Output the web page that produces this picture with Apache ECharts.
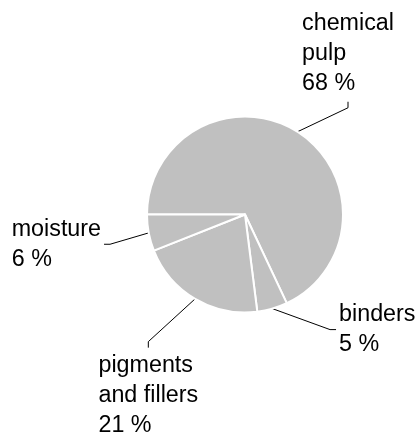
<!DOCTYPE html>
<html>
<head>
<meta charset="utf-8">
<script src="https://cdn.jsdelivr.net/npm/echarts@6/dist/echarts.min.js"></script>
<style>
  html, body { margin: 0; padding: 0; background: #fff; }
  #chart { width: 416px; height: 439px; }
</style>
</head>
<body>
<div id="chart"></div>
<script>
// ---- data ----
const categories = ['chemical\npulp', 'binders', 'pigments\nand fillers', 'moisture'];
const values = [68, 5, 21, 6];

// ---- layout / style config (not data) ----
const CX = 245, CY = 214.5, R = 98;
const START_ANGLE = 180;
// elbow offset from the slice's outer mid-point, tick direction and gap to the text
const leader = [
  { off: [50.5, -24], side: 'top' },
  { off: [57.7, 21], side: 'right' },
  { off: [-46.8, 42.8], side: 'bottom' },
  { off: [-38.7, 11.4], side: 'left' }
];
const TICK = 6, GAP = 3;

const total = values.reduce((a, b) => a + b, 0);
function midAngle(i) {
  let before = 0;
  for (let k = 0; k < i; k++) before += values[k];
  const mid = before + values[i] / 2;
  return (START_ANGLE - mid / total * 360) * Math.PI / 180;
}

const chart = echarts.init(document.getElementById('chart'), null, { renderer: 'canvas' });
chart.setOption({
  animation: false,
  series: [{
    type: 'pie',
    center: [CX, CY],
    radius: R,
    startAngle: START_ANGLE,
    clockwise: true,
    avoidLabelOverlap: false,
    data: categories.map((c, i) => ({ name: c, value: values[i] })),
    itemStyle: { color: '#c0c0c0', borderColor: '#ffffff', borderWidth: 2 },
    emphasis: { disabled: true },
    label: {
      show: true,
      position: 'outside',
      color: '#000',
      fontFamily: 'Liberation Sans, Arial, sans-serif',
      fontSize: 23.3,
      lineHeight: 30,
      align: 'left',
      formatter: p => p.name + '\n' + p.value + ' %'
    },
    labelLine: { show: true, smooth: false, lineStyle: { color: '#000', width: 1 } },
    labelLayout: function (params) {
      const i = params.dataIndex;
      const a = midAngle(i);
      const edge = [CX + R * Math.cos(a), CY - R * Math.sin(a)];
      const L = leader[i];
      const elbow = [edge[0] + L.off[0], edge[1] + L.off[1]];
      let tip, x, y;
      const w = params.labelRect.width, h = params.labelRect.height;
      if (L.side === 'top') {
        tip = [elbow[0], elbow[1] - TICK];
        x = tip[0] - w / 2; y = tip[1] - GAP - h;
      } else if (L.side === 'bottom') {
        tip = [elbow[0], elbow[1] + TICK];
        x = tip[0] - w / 2; y = tip[1] + GAP;
      } else if (L.side === 'left') {
        tip = [elbow[0] - TICK, elbow[1]];
        x = tip[0] - GAP - w; y = tip[1] - h / 2;
      } else {
        tip = [elbow[0] + TICK, elbow[1]];
        x = tip[0] + GAP; y = tip[1] - h / 2;
      }
      return { x: x, y: y, align: 'left', verticalAlign: 'top', labelLinePoints: [edge, elbow, tip] };
    }
  }]
});
</script>
</body>
</html>
